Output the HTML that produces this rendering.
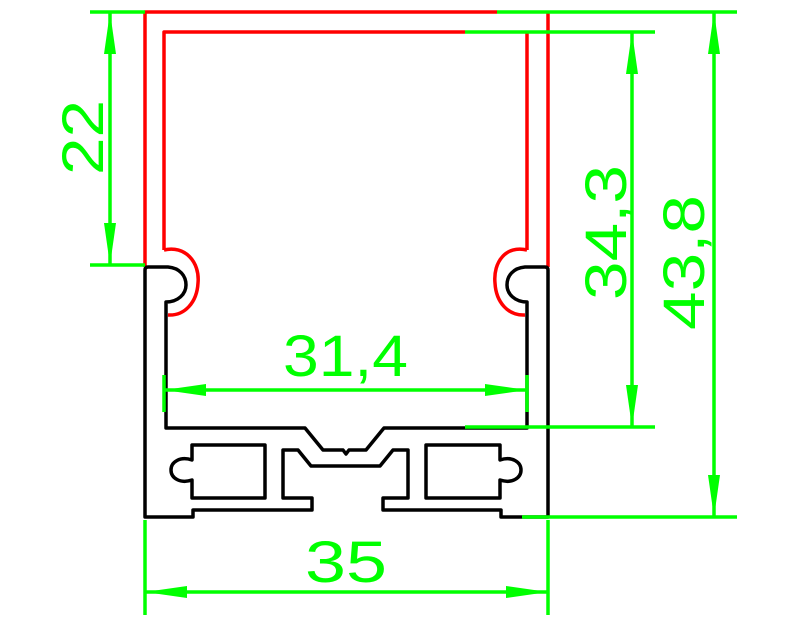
<!DOCTYPE html>
<html><head><style>body{margin:0;background:#fff}svg{display:block}</style></head><body>
<svg width="795" height="619" viewBox="0 0 795 619" xmlns="http://www.w3.org/2000/svg">
<g fill="none" stroke-width="3.5" stroke-linejoin="round">
<path stroke="#ff0000" d="M145,267 V12 H497 M548,267 V12 M164,250 V32 H465 M527,32 V250
 M164,250 C185,245 200,262 198,283 C197,302 185,316 168,315
 M527,250 C506,245 493,262 495,283 C496,302 508,316 525,315"/>
<path stroke="#000" d="M145,517 V270 Q145,267 148,267 H168 C180,268 186,276 186,285 C186,294 178,302 166,302 V428 H305 L323,450 H343 L346,454 L349,450 H366 L384,428 H527 V302 C515,302 507,294 507,285 C507,276 513,268 525,267 H545 Q548,267 548,270 V517 H501 V510 H383 V498 H408 V450 H393 L380,466 H311 L298,450 H283 V498 H312 V510 H193 V517 Z"/>
<path stroke="#000" d="M192,445 H265 V498 H192 V480 C180,484 171,478 171,470 C171,462 180,456 192,460 Z"/>
<path stroke="#000" d="M500,445 H426 V498 H500 V480 C512,484 521,478 521,470 C521,462 512,456 500,460 Z"/>
</g>
<g stroke="#00ff00" stroke-width="3.5" fill="none">
<path d="M90,12 H145 M497,12 H737 M90,265 H145 M110,12 V265 M465,32 H655 M465,427 H655 M632,32 V427 M522,517 H737 M714,12 V517 M164,375 V412 M527,375 V412 M164,390 H527 M145,520 V615 M548,520 V615 M145,592 H548"/>
</g>
<g fill="#00ff00">
<polygon points="110,12 104,54 116,54"/><polygon points="110,265 104,223 116,223"/>
<polygon points="632,32 626,74 638,74"/><polygon points="632,427 626,385 638,385"/>
<polygon points="714,12 708,54 720,54"/><polygon points="714,517 708,475 720,475"/>
<polygon points="164,390 206,384 206,396"/><polygon points="527,390 485,384 485,396"/>
<polygon points="145,592 187,586 187,598"/><polygon points="548,592 506,586 506,598"/>
</g>
<g fill="#00ff00" font-family="Liberation Sans, sans-serif" font-size="58" lengthAdjust="spacingAndGlyphs">
<text x="283" y="376" textLength="125" lengthAdjust="spacingAndGlyphs">31,4</text>
<text x="305" y="582" textLength="82" lengthAdjust="spacingAndGlyphs">35</text>
<text transform="translate(103,175) rotate(-90)" textLength="75" lengthAdjust="spacingAndGlyphs">22</text>
<text transform="translate(626,300) rotate(-90)" textLength="135" lengthAdjust="spacingAndGlyphs">34,3</text>
<text transform="translate(704,330) rotate(-90)" textLength="135" lengthAdjust="spacingAndGlyphs">43,8</text>
</g>
</svg>
</body></html>
